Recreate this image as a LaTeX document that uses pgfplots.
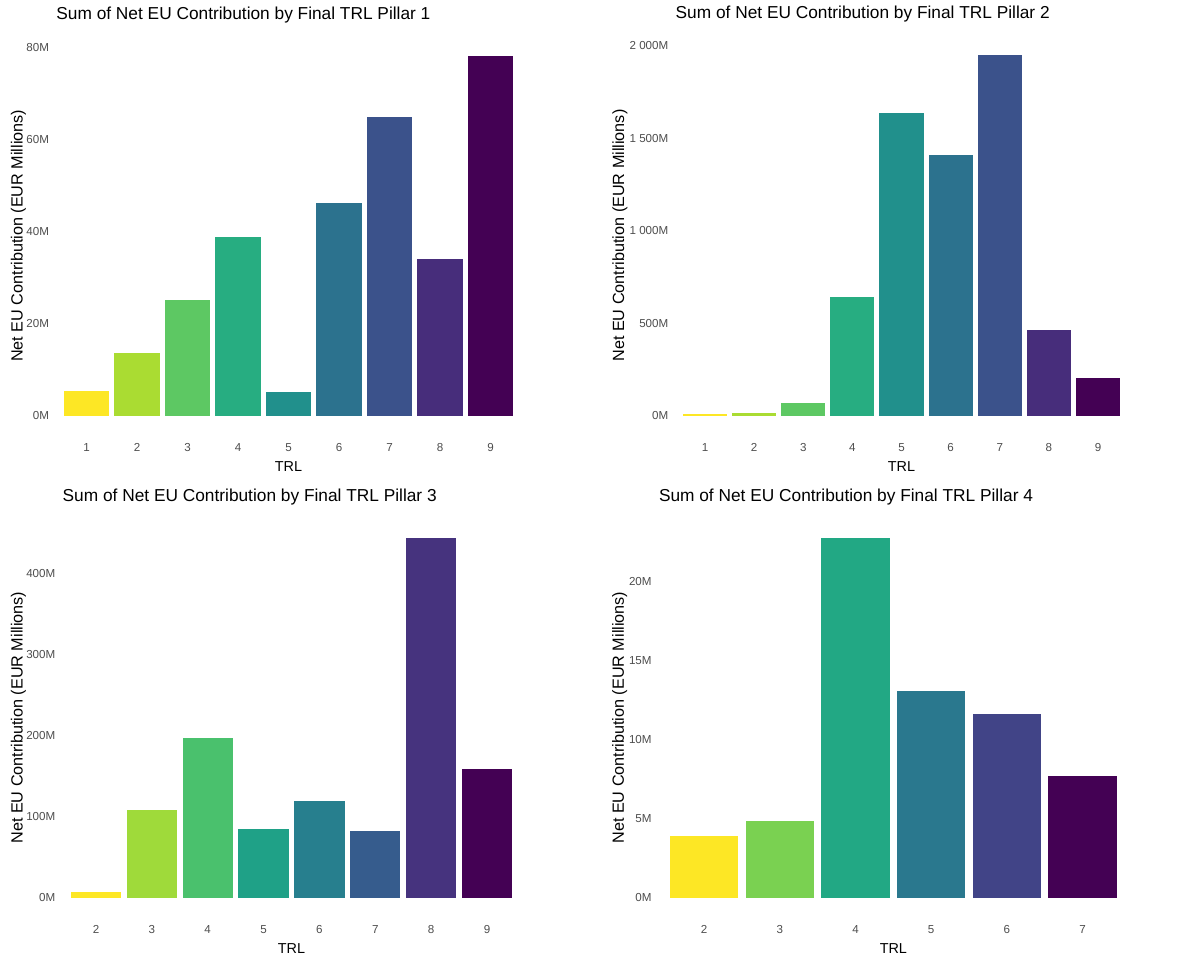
\documentclass[border=0pt]{standalone}
\usepackage{fontspec}
\setmainfont{Liberation Sans}
\usepackage{pgfplots}
\pgfplotsset{compat=1.18}
\definecolor{tickgray}{HTML}{4D4D4D}
% viridis 9 (reversed order: TRL1 -> yellow)
\definecolor{na}{HTML}{FDE725}\definecolor{nb}{HTML}{AADC32}\definecolor{nc}{HTML}{5DC863}
\definecolor{nd}{HTML}{27AD81}\definecolor{ne}{HTML}{21908C}\definecolor{nf}{HTML}{2C728E}
\definecolor{ng}{HTML}{3B528B}\definecolor{nh}{HTML}{472D7B}\definecolor{ni}{HTML}{440154}
% viridis 8
\definecolor{ea}{HTML}{FDE725}\definecolor{eb}{HTML}{9FDA3A}\definecolor{ec}{HTML}{4AC16D}
\definecolor{ed}{HTML}{1FA187}\definecolor{ee}{HTML}{277F8E}\definecolor{ef}{HTML}{365C8D}
\definecolor{eg}{HTML}{46337E}\definecolor{eh}{HTML}{440154}
% viridis 6
\definecolor{sa}{HTML}{FDE725}\definecolor{sb}{HTML}{7AD151}\definecolor{sc}{HTML}{22A884}
\definecolor{sd}{HTML}{2A788E}\definecolor{se}{HTML}{414487}\definecolor{sf}{HTML}{440154}
\pgfplotsset{
  gg/.style={
    scale only axis,
    anchor=south west,
    axis line style={draw=none},
    tick style={draw=none},
    yticklabel style={anchor=east, inner sep=0pt, xshift=-7pt, font=\fontsize{11.6}{13}\selectfont, text=tickgray},
    xticklabel style={anchor=north, inner sep=0pt, yshift=-9.2pt, font=\fontsize{11.6}{13}\selectfont, text=tickgray},
    xlabel style={at={(axis description cs:0.5,0)}, anchor=north, inner sep=0pt, yshift=-27.3pt, font=\fontsize{14.4}{16}\selectfont},
    ylabel style={anchor=base, inner sep=0pt, font=\fontsize{16.2}{18}\selectfont},
    title style={at={(axis description cs:0,1)}, anchor=base west, inner sep=0pt, yshift=12.4pt, font=\fontsize{17.3}{20}\selectfont},
    xlabel={TRL},
    ylabel={Net EU Contribution (EUR Millions)},
  },
  gb/.style={ybar, bar width=0.9, bar shift=0pt, draw=none, fill=#1},
}
\begin{document}
\begin{tikzpicture}
\path[use as bounding box] (0pt,0pt) rectangle (1194pt,961pt);
% Pillar 1
\begin{axis}[gg, at={(56.2pt,527pt)}, width=464.6pt, height=396.5pt,
  xmin=0.4, xmax=9.6, ymin=-3.91, ymax=82.11,
  xtick={1,2,3,4,5,6,7,8,9}, xticklabels={1,2,3,4,5,6,7,8,9},
  ytick={0,20,40,60,80}, yticklabels={0M,20M,40M,60M,80M},
  ylabel style={at={(axis description cs:-0.0721,0.5)}},
  title={Sum of Net EU Contribution by Final TRL Pillar 1}]
\addplot[gb=na] coordinates {(1,5.5)};
\addplot[gb=nb] coordinates {(2,13.7)};
\addplot[gb=nc] coordinates {(3,25.1)};
\addplot[gb=nd] coordinates {(4,38.8)};
\addplot[gb=ne] coordinates {(5,5.1)};
\addplot[gb=nf] coordinates {(6,46.3)};
\addplot[gb=ng] coordinates {(7,64.9)};
\addplot[gb=nh] coordinates {(8,34.1)};
\addplot[gb=ni] coordinates {(9,78.2)};
\end{axis}
% Pillar 2
\begin{axis}[gg, at={(675.5pt,527pt)}, width=452pt, height=397pt,
  xmin=0.4, xmax=9.6, ymin=-97.5, ymax=2048.6,
  xtick={1,2,3,4,5,6,7,8,9}, xticklabels={1,2,3,4,5,6,7,8,9},
  ytick={0,500,1000,1500,2000}, yticklabels={0M,500M,1 000M,1 500M,2 000M},
  ylabel style={at={(axis description cs:-0.1139,0.5)}},
  title={Sum of Net EU Contribution by Final TRL Pillar 2}]
\addplot[gb=na] coordinates {(1,8)};
\addplot[gb=nb] coordinates {(2,18)};
\addplot[gb=nc] coordinates {(3,72)};
\addplot[gb=nd] coordinates {(4,645)};
\addplot[gb=ne] coordinates {(5,1638)};
\addplot[gb=nf] coordinates {(6,1411)};
\addplot[gb=ng] coordinates {(7,1951)};
\addplot[gb=nh] coordinates {(8,465)};
\addplot[gb=ni] coordinates {(9,205)};
\end{axis}
% Pillar 3
\begin{axis}[gg, at={(62.5pt,45.3pt)}, width=458pt, height=396.1pt,
  xmin=1.4, xmax=9.6, ymin=-22.2, ymax=466.2,
  xtick={2,3,4,5,6,7,8,9}, xticklabels={2,3,4,5,6,7,8,9},
  ytick={0,100,200,300,400}, yticklabels={0M,100M,200M,300M,400M},
  ylabel style={at={(axis description cs:-0.0869,0.5)}},
  title={Sum of Net EU Contribution by Final TRL Pillar 3}]
\addplot[gb=ea] coordinates {(2,6.6)};
\addplot[gb=eb] coordinates {(3,108)};
\addplot[gb=ec] coordinates {(4,196.5)};
\addplot[gb=ed] coordinates {(5,85)};
\addplot[gb=ee] coordinates {(6,119.6)};
\addplot[gb=ef] coordinates {(7,82)};
\addplot[gb=eg] coordinates {(8,444)};
\addplot[gb=eh] coordinates {(9,158.7)};
\end{axis}
% Pillar 4
\begin{axis}[gg, at={(658.8pt,45.3pt)}, width=469.1pt, height=396.1pt,
  xmin=1.4, xmax=7.6, ymin=-1.14, ymax=23.94,
  xtick={2,3,4,5,6,7}, xticklabels={2,3,4,5,6,7},
  ytick={0,5,10,15,20}, yticklabels={0M,5M,10M,15M,20M},
  ylabel style={at={(axis description cs:-0.0742,0.5)}},
  title={Sum of Net EU Contribution by Final TRL Pillar 4}]
\addplot[gb=sa] coordinates {(2,3.89)};
\addplot[gb=sb] coordinates {(3,4.87)};
\addplot[gb=sc] coordinates {(4,22.8)};
\addplot[gb=sd] coordinates {(5,13.1)};
\addplot[gb=se] coordinates {(6,11.63)};
\addplot[gb=sf] coordinates {(7,7.72)};
\end{axis}
\end{tikzpicture}
\end{document}
